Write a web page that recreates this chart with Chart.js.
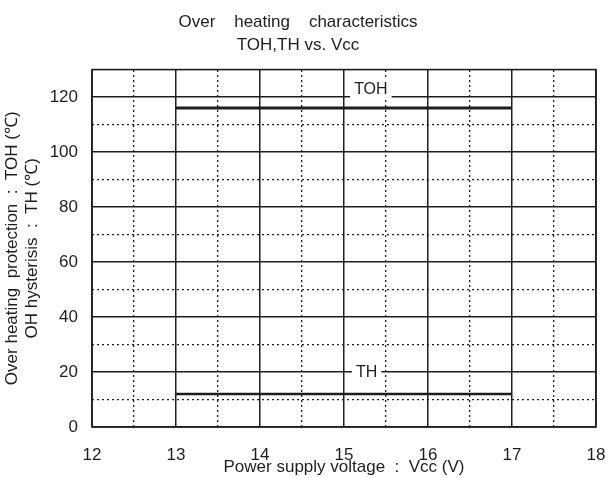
<!DOCTYPE html>
<html>
<head>
<meta charset="utf-8">
<script src="https://cdn.jsdelivr.net/npm/chart.js@4"></script>
<style>
  body { margin: 0; background: #fff; }
  #wrap { width: 611px; height: 478px; }
</style>
</head>
<body>
<div id="wrap"><canvas id="ohChart"></canvas></div>
<script>
// Values
const vcc = [13, 17];          // supply voltage (V)
const tohValues = [116, 116];  // over heating protection (degC)
const thValues = [12, 12];     // OH hysterisis (degC)

const seriesNames = ["TOH", "TH"];
const nameAtVcc = [15.32, 15.27];   // where the curve names sit (x, in V)
const nameAtTemp = [120, 20];       // ... and on which gridline (degC)

const xMin = 12, xMax = 18;
const yMin = 0, yMax = 130;

const ink = "#1e1e1e";
const FONT = "'Liberation Sans', Arial, sans-serif";

// outer frame + curve name labels
const framePlugin = {
    id: "frame",
    afterDatasetsDraw(chart) {
        const { ctx, chartArea: a, scales } = chart;
        ctx.save();
        ctx.strokeStyle = ink;
        ctx.lineWidth = 1.6;
        ctx.strokeRect(a.left, a.top, a.right - a.left, a.bottom - a.top);

        ctx.font = "16px " + FONT;
        ctx.textAlign = "center";
        seriesNames.forEach((name, i) => {
            const px = scales.x.getPixelForValue(nameAtVcc[i]);
            const py = scales.y.getPixelForValue(nameAtTemp[i]);
            const w = ctx.measureText(name).width + 8;
            ctx.fillStyle = "#fff";
            if (i === 0) {
                ctx.fillRect(px - w / 2, py - 18, w, 20);
                ctx.fillStyle = ink;
                ctx.textBaseline = "bottom";
                ctx.fillText(name, px, py + 1);
            } else {
                ctx.fillRect(px - w / 2, py - 9, w, 18);
                ctx.fillStyle = ink;
                ctx.textBaseline = "middle";
                ctx.fillText(name, px, py + 1);
            }
        });
        ctx.restore();
    }
};

const ctx = document.getElementById("ohChart").getContext("2d");
new Chart(ctx, {
    type: "line",
    data: {
        datasets: [
            {
                label: "TOH",
                data: vcc.map((v, i) => ({ x: v, y: tohValues[i] })),
                borderColor: ink,
                borderWidth: 3,
                pointRadius: 0,
                fill: false
            },
            {
                label: "TH",
                data: vcc.map((v, i) => ({ x: v, y: thValues[i] })),
                borderColor: ink,
                borderWidth: 2.6,
                pointRadius: 0,
                fill: false
            }
        ]
    },
    options: {
        responsive: true,
        maintainAspectRatio: false,
        animation: false,
        layout: { padding: { right: 15, left: 0, top: 0, bottom: 0 } },
        plugins: {
            legend: { display: false },
            tooltip: { enabled: false },
            title: {
                display: true,
                text: ["Over    heating    characteristics", "TOH,TH vs. Vcc"],
                color: ink,
                font: { family: FONT, size: 17, weight: "normal", lineHeight: 1.4 },
                padding: { top: 10, bottom: 12 }
            }
        },
        scales: {
            x: {
                type: "linear",
                min: xMin, max: xMax,
                afterFit: s => { s.height = 51; s.paddingRight = 0; s.paddingLeft = 0; },
                border: { display: false },
                grid: { color: ink, lineWidth: 1.5, drawTicks: false },
                ticks: {
                    stepSize: 1, color: ink, padding: 18,
                    font: { family: FONT, size: 17 }
                },
                title: {
                    display: true,
                    text: "Power supply voltage  :  Vcc (V)",
                    color: ink,
                    font: { family: FONT, size: 17 },
                    padding: { top: 0, bottom: 0 }
                }
            },
            xMinor: {
                type: "linear",
                position: "top",
                min: xMin, max: xMax,
                afterFit: s => { s.height = 0; s.paddingRight = 0; s.paddingLeft = 0; },
                border: { display: false, dash: [2, 3] },
                grid: {
                    drawTicks: false,
                    lineWidth: 1.3,
                    color: c => (c.tick && Number.isInteger(c.tick.value)) ? "rgba(0,0,0,0)" : ink
                },
                ticks: { display: false, stepSize: 0.5 }
            },
            y: {
                min: yMin, max: yMax,
                afterFit: s => { s.width = 92; },
                border: { display: false },
                grid: { color: ink, lineWidth: 1.5, drawTicks: false },
                ticks: {
                    stepSize: 20, color: ink, padding: 14,
                    font: { family: FONT, size: 17 },
                    callback: v => (v % 20 === 0 ? String(v) : null)
                },
                title: {
                    display: true,
                    text: ["Over heating  protection  :  TOH (\u2103)", "OH hysterisis  :  TH (\u2103)"],
                    color: ink,
                    font: { family: FONT, size: 17, lineHeight: 1.2 },
                    padding: { top: 2, bottom: 0 }
                }
            },
            yMinor: {
                position: "right",
                min: yMin, max: yMax,
                afterFit: s => { s.width = 0; },
                border: { display: false, dash: [2, 3] },
                grid: {
                    drawTicks: false,
                    lineWidth: 1.3,
                    color: c => (c.tick && c.tick.value % 20 !== 0 && c.tick.value < yMax) ? ink : "rgba(0,0,0,0)"
                },
                ticks: { display: false, stepSize: 10 }
            }
        }
    },
    plugins: [framePlugin]
});
</script>
</body>
</html>
